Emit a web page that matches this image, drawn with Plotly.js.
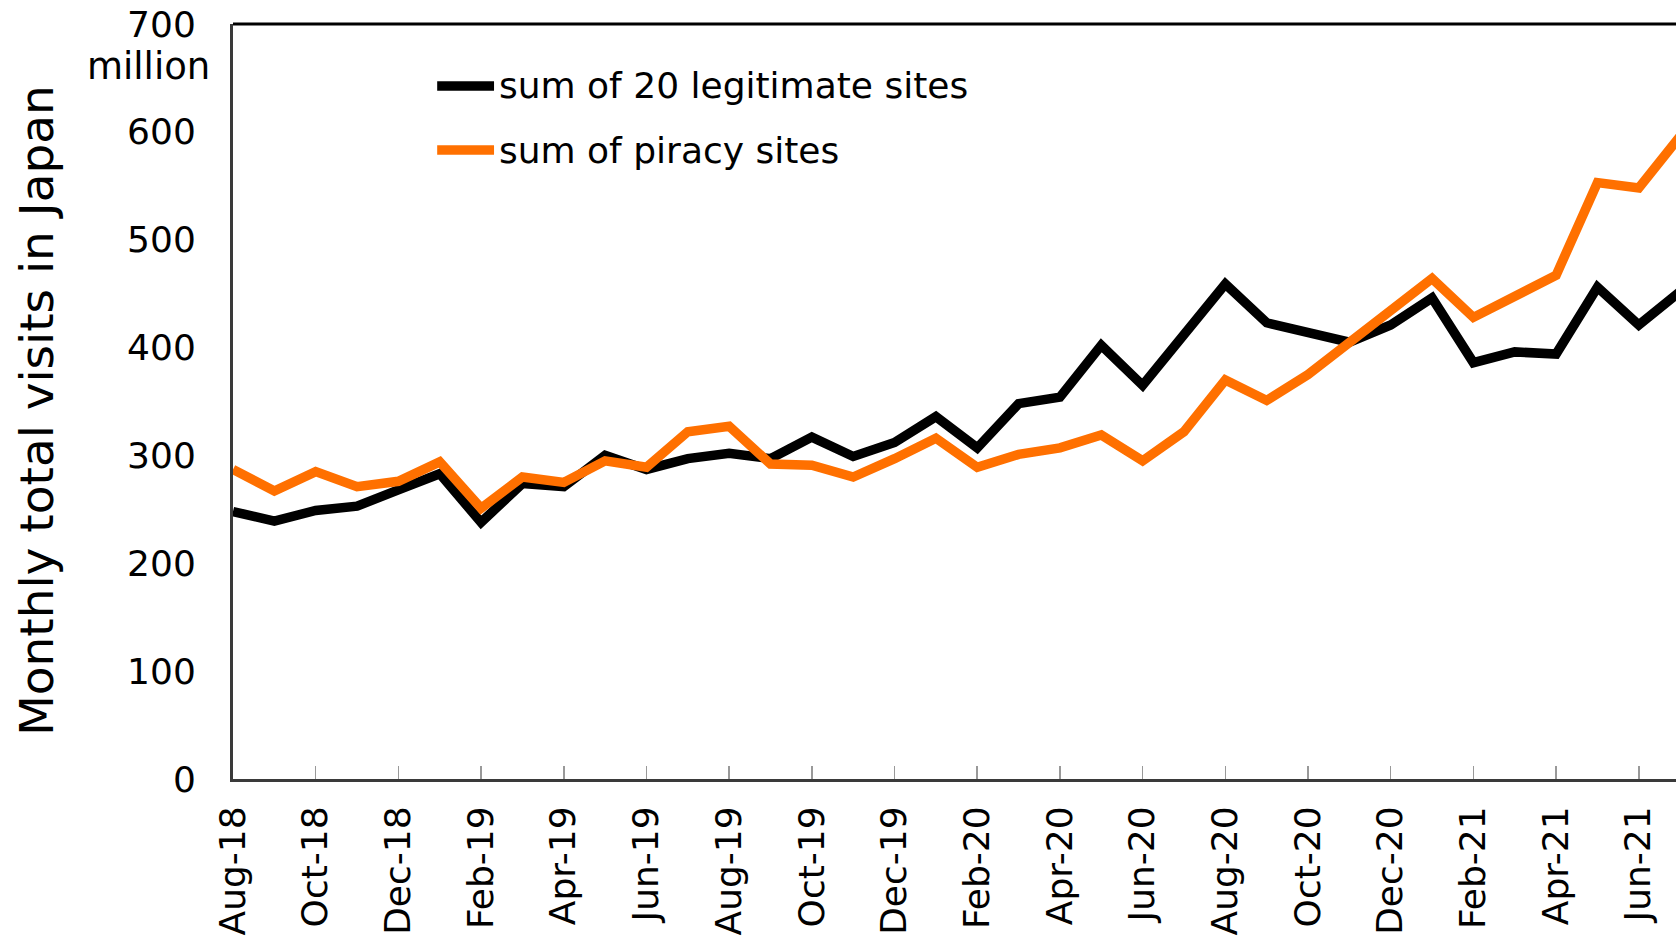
<!DOCTYPE html>
<html>
<head>
<meta charset="utf-8">
<script src="https://cdn.plot.ly/plotly-3.0.1.min.js"></script>
<style>
  html, body { margin: 0; padding: 0; background: #fff; }
  #chart { width: 1676px; height: 940px; }
</style>
</head>
<body>
<div id="chart"></div>
<script>
const months = ["Aug-18","Sep-18","Oct-18","Nov-18","Dec-18","Jan-19","Feb-19","Mar-19","Apr-19","May-19","Jun-19","Jul-19",
  "Aug-19","Sep-19","Oct-19","Nov-19","Dec-19","Jan-20","Feb-20","Mar-20","Apr-20","May-20","Jun-20","Jul-20",
  "Aug-20","Sep-20","Oct-20","Nov-20","Dec-20","Jan-21","Feb-21","Mar-21","Apr-21","May-21","Jun-21","Jul-21"];

const legitimateSites = [248, 239, 249, 253, 268, 283, 238, 274, 271, 300, 287, 297,
  302, 297, 317, 299, 312, 336, 307, 348, 354, 402, 365, 413,
  459, 423, 413, 405, 421, 446, 386, 396, 394, 456, 421, 452];

const piracySites = [287, 267, 285, 271, 276, 294, 251, 280, 275, 295, 289, 322,
  327, 292, 291, 280, 297, 316, 289, 301, 307, 319, 295, 322,
  370, 351, 375, 404, 435, 464, 428, 447, 467, 553, 548, 596];

const seriesNames = ["sum of 20 legitimate sites", "sum of piracy sites"];
const seriesColors = ["#000000", "#FF7000"];
const xTickLabels = months.filter((m, i) => i % 2 === 0);
const yTickValues = [0, 100, 200, 300, 400, 500, 600, 700];

const FONT = "DejaVu Sans, Verdana, sans-serif";

const traces = [
  { x: months, y: legitimateSites, name: seriesNames[0], type: "scatter", mode: "lines",
    line: { color: seriesColors[0], width: 9.5 }, showlegend: false, hoverinfo: "x+y" },
  { x: months, y: piracySites, name: seriesNames[1], type: "scatter", mode: "lines",
    line: { color: seriesColors[1], width: 9.5 }, showlegend: false, hoverinfo: "x+y" }
];

const legendX0 = 0.1415, legendX1 = 0.1809, legendTextX = 0.183;
const legendY = [0.918, 0.833];

const shapes = [
  { type: "line", xref: "paper", yref: "paper", x0: 0, x1: 1, y0: 1, y1: 1,
    line: { color: "#000", width: 3 } }
];
const annotations = [
  { text: "Monthly total visits in Japan", xref: "paper", yref: "paper", x: -0.1358, y: 0.4877,
    xanchor: "center", yanchor: "middle", textangle: -90, showarrow: false,
    font: { family: FONT, size: 47, color: "#000" } },
  { text: "million", xref: "paper", yref: "paper", x: -0.0155, y: 0.9438,
    xanchor: "right", yanchor: "middle", showarrow: false, borderpad: 0,
    font: { family: FONT, size: 37, color: "#000" } }
];
seriesNames.forEach((name, i) => {
  shapes.push({ type: "line", xref: "paper", yref: "paper", x0: legendX0, x1: legendX1,
    y0: legendY[i], y1: legendY[i], line: { color: seriesColors[i], width: 9.5 } });
  annotations.push({ text: name, xref: "paper", yref: "paper", x: legendTextX, y: legendY[i],
    xanchor: "left", yanchor: "middle", showarrow: false,
    font: { family: FONT, size: 36, color: "#000" } });
});

const layout = {
  width: 1676, height: 940,
  margin: { l: 233, r: 0, t: 23.5, b: 161, pad: 0 },
  paper_bgcolor: "#fff", plot_bgcolor: "#fff",
  font: { family: FONT, size: 36, color: "#000" },
  showlegend: false,
  xaxis: {
    type: "category",
    range: [0, 34.9],
    tickmode: "array", tickvals: xTickLabels, ticktext: xTickLabels,
    tickangle: -90,
    ticks: "inside", ticklen: 13, tickwidth: 1.5, tickcolor: "#999",
    ticklabelstandoff: 10,
    showline: true, linecolor: "#3a3a3a", linewidth: 3,
    showgrid: false, zeroline: false,
    tickfont: { family: FONT, size: 36, color: "#000" }
  },
  yaxis: {
    range: [0, 700],
    tickmode: "array", tickvals: yTickValues,
    ticks: "",
    ticklabelstandoff: 27,
    showline: true, linecolor: "#3a3a3a", linewidth: 3,
    showgrid: false, zeroline: false,
    tickfont: { family: FONT, size: 36, color: "#000" }
  },
  shapes: shapes,
  annotations: annotations
};

Plotly.newPlot("chart", traces, layout, { displayModeBar: false, staticPlot: true });
</script>
</body>
</html>
